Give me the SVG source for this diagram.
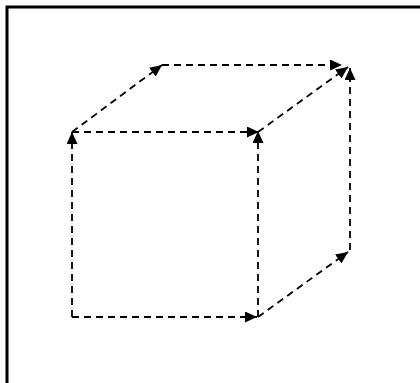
<svg xmlns="http://www.w3.org/2000/svg" width="420" height="383" viewBox="0 0 420 383">
<style>
.edge{fill:none;stroke:#000;stroke-width:1.8;stroke-dasharray:7,5;marker-end:url(#ah)}
.frame{fill:none;stroke:#000;stroke-width:3}
</style>
<defs>
<marker id="ah" markerUnits="userSpaceOnUse" markerWidth="13" markerHeight="11" refX="12" refY="5.5" orient="auto">
<path d="M0,0 L12,5.5 L0,11 Z" fill="#000"/>
</marker>
</defs>
<rect width="420" height="383" fill="#fff"/>
<path class="frame" d="M7,383 V7 H420"/>
<g id="connectors">
<path class="edge" d="M72,317 L72,132"/>
<path class="edge" d="M72,317 L257,317"/>
<path class="edge" d="M72,132 L259,132"/>
<path class="edge" d="M258,317 L258,131"/>
<path class="edge" d="M72,132 L162,65"/>
<path class="edge" d="M162,65 L342,65"/>
<path class="edge" d="M258,132 L348,67"/>
<path class="edge" d="M350,250 L350,68"/>
<path class="edge" d="M258,317 L348,252"/>
</g>
</svg>
